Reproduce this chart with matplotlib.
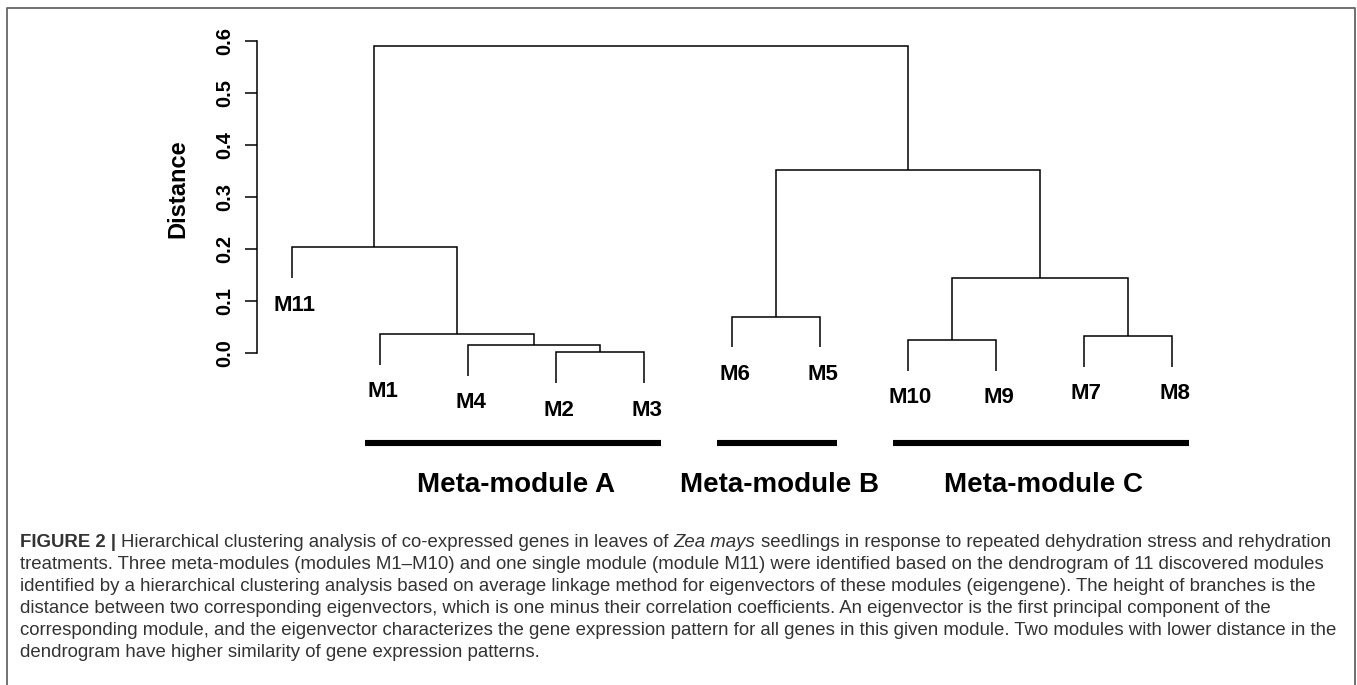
import numpy as np
from matplotlib import pyplot as plt
from matplotlib.lines import Line2D
from matplotlib.transforms import blended_transform_factory

plt.rcParams['font.family'] = ['Liberation Sans', 'DejaVu Sans']

# leaves in the order they are drawn, left to right
leaf_names = ['M11', 'M1', 'M4', 'M2', 'M3', 'M6', 'M5', 'M10', 'M9', 'M7', 'M8']

# merge table (like hclust$merge): cluster ck is the k-th row
merge_left = ['M2', 'M4', 'M10', 'M7', 'M1', 'M6', 'c3', 'M11', 'c6', 'c8']
merge_right = ['M3', 'c1', 'M9', 'M8', 'c2', 'M5', 'c4', 'c5', 'c7', 'c9']
merge_height = [0.0005, 0.0148, 0.0244, 0.0321, 0.036, 0.0692, 0.143, 0.2026, 0.351, 0.589]

ytick_vals = [0.0, 0.1, 0.2, 0.3, 0.4, 0.5, 0.6]
ytick_labels = ['0.0', '0.1', '0.2', '0.3', '0.4', '0.5', '0.6']

meta_names = ['Meta-module A', 'Meta-module B', 'Meta-module C']
meta_first = ['M1', 'M6', 'M10']
meta_last = ['M3', 'M5', 'M8']

caption_lines = [
    None,  # first line is built from pieces below
    'treatments. Three meta-modules (modules M1\u2013M10) and one single module (module M11) were identified based on the dendrogram of 11 discovered modules',
    'identified by a hierarchical clustering analysis based on average linkage method for eigenvectors of these modules (eigengene). The height of branches is the',
    'distance between two corresponding eigenvectors, which is one minus their correlation coefficients. An eigenvector is the first principal component of the',
    'corresponding module, and the eigenvector characterizes the gene expression pattern for all genes in this given module. Two modules with lower distance in the',
    'dendrogram have higher similarity of gene expression patterns.',
]
caption_first = [
    ('FIGURE 2 |', 'bold', 'normal'),
    ('Hierarchical clustering analysis of co-expressed genes in leaves of', 'normal', 'normal'),
    ('Zea mays', 'normal', 'italic'),
    ('seedlings in response to repeated dehydration stress and rehydration', 'normal', 'normal'),
]

W, H = 1357, 685
fig = plt.figure(figsize=(W / 100, H / 100), dpi=100)

# plot region in pixels
ax_l, ax_r, ax_t, ax_b = 256.7, 1250, 30, 520
ax = fig.add_axes([ax_l / W, 1 - ax_b / H, (ax_r - ax_l) / W, (ax_b - ax_t) / H])
px_x = 88.0   # pixels per leaf
px_y = 520.0  # pixels per unit distance
x0_px, y0_px = 291.7, 352.7
ax.set_xlim(1 - (x0_px - ax_l) / px_x, 1 + (ax_r - x0_px) / px_x)
ax.set_ylim((y0_px - ax_b) / px_y, (y0_px - ax_t) / px_y)

hang = 0.1 * max(merge_height)
xpos = {name: i + 1 for i, name in enumerate(leaf_names)}
ypos = {}
leaf_bottom = {}
for k in range(len(merge_height)):
    a, b, h = merge_left[k], merge_right[k], merge_height[k]
    xa, xb = xpos[a], xpos[b]
    ya = ypos.get(a, h - hang)
    yb = ypos.get(b, h - hang)
    ax.plot([xa, xa, xb, xb], [ya, h, h, yb], color='black', lw=1.1,
            solid_joinstyle='miter', solid_capstyle='butt')
    cname = 'c%d' % (k + 1)
    xpos[cname] = (xa + xb) / 2
    ypos[cname] = h
    if a in leaf_names:
        leaf_bottom[a] = ya
    if b in leaf_names:
        leaf_bottom[b] = yb

for name in leaf_names:
    ax.annotate(name, (xpos[name], leaf_bottom[name]), xytext=(2, -12),
                textcoords='offset points', ha='center', va='top',
                fontsize=16, fontweight='bold', annotation_clip=False)

# meta-module bars and names
bar_y = (y0_px - 443) / px_y
name_y = (y0_px - 491.7) / px_y
for nm, f, l in zip(meta_names, meta_first, meta_last):
    xs = xpos[f] - 0.167
    xe = xpos[l] + 0.2
    ax.plot([xs, xe], [bar_y, bar_y], color='black', lw=4.4, solid_capstyle='butt')
    ax.text((xs + xe) / 2 + 0.03, name_y, nm, ha='center', va='baseline',
            fontsize=20, fontweight='bold')

# axis, R style
for s in ['top', 'right', 'bottom']:
    ax.spines[s].set_visible(False)
ax.spines['left'].set_bounds(0, 0.6)
ax.spines['left'].set_linewidth(1.1)
ax.set_xticks([])
ax.set_yticks(ytick_vals)
ax.set_yticklabels(ytick_labels, fontsize=14.5, fontweight='bold', rotation=90,
                   va='center')
ax.tick_params(axis='y', length=9, width=1.1, pad=7)
ax.patch.set_visible(False)

lab_tr = blended_transform_factory(ax.transAxes, ax.transData)
ax.text((178 - ax_l) / (ax_r - ax_l), 0.315, 'Distance', transform=lab_tr,
        rotation=90, ha='center', va='center', fontsize=17, fontweight='bold')

# frame around the figure (open at the bottom)
frame_x = [7.3 / W, 7.3 / W, 1355.3 / W, 1355.3 / W]
frame_y = [0, 1 - 8.3 / H, 1 - 8.3 / H, 0]
fig.add_artist(Line2D(frame_x, frame_y, transform=fig.transFigure,
                      color='#666666', lw=1.3))

# caption
renderer = fig.canvas.get_renderer()
cap_size = 13.45
cap_color = '#333333'
cap_x = 20
cap_y = 546.7
cap_step = 22


def width_of(s, **kw):
    t = fig.text(0, 0, s, **kw)
    w = t.get_window_extent(renderer).width
    t.remove()
    return w


space_w = width_of('a a', fontsize=cap_size) - width_of('aa', fontsize=cap_size)
x = cap_x
for txt, wt, st in caption_first:
    t = fig.text(x / W, 1 - cap_y / H, txt, fontsize=cap_size, fontweight=wt,
                 fontstyle=st, color=cap_color, va='baseline')
    x += t.get_window_extent(renderer).width + space_w

for i, line in enumerate(caption_lines):
    if line is None:
        continue
    fig.text(cap_x / W, 1 - (cap_y + i * cap_step) / H, line, fontsize=cap_size,
             color=cap_color, va='baseline')

fig.savefig('out.png', dpi=100)
